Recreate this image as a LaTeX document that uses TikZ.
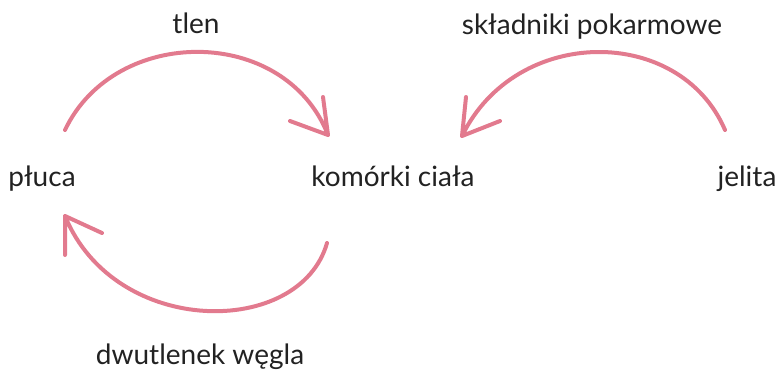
\documentclass[tikz,border=0pt]{standalone}
\usepackage{fontspec}
\setmainfont{Lato}
\usepackage{tikz}
\usetikzlibrary{arrows}
\definecolor{rozowy}{HTML}{E27A8E}
\definecolor{tekst}{HTML}{222222}

\begin{document}
\begin{tikzpicture}[x=0.75pt, y=-0.75pt,
		etykieta/.style={anchor=base, text=tekst, inner sep=0pt, font=\fontsize{21}{25}\selectfont},
		strzalka/.style={draw=rozowy, line width=3pt, line cap=round, line join=round}]
			\useasboundingbox (0,0) rectangle (780,372);
			% etykiety
			\node[etykieta] (tlen) at (196,33) {tlen};
			\node[etykieta] (sklad) at (592,34) {składniki pokarmowe};
			\node[etykieta] (pluca) at (42,186) {płuca};
			\node[etykieta] (komorki) at (393,186) {komórki ciała};
			\node[etykieta] (jelita) at (747,186) {jelita};
			\node[etykieta] (co2) at (200,364) {dwutlenek węgla};
			% konce lukow
			\coordinate (t-a) at (65,130);
			\coordinate (t-b) at (328,135);
			\coordinate (d-a) at (327,243);
			\coordinate (d-b) at (65,216);
			\coordinate (s-a) at (725,130);
			\coordinate (s-b) at (462,136);
			% luki
			\path[strzalka]
			(t-a) .. controls (115,25) and (285,25) .. (t-b)
			(t-b) -- ++(-38,-14) (t-b) -- ++(-5,-38);
			\path[strzalka]
			(d-a) .. controls (300,338) and (115,338) .. (d-b)
			(d-b) -- ++(37,17) (d-b) -- ++(0,39);
			\path[strzalka]
			(s-a) .. controls (680,25) and (516,25) .. (s-b)
			(s-b) -- ++(38,-15) (s-b) -- ++(4,-39);
		\end{tikzpicture}
\end{document}
